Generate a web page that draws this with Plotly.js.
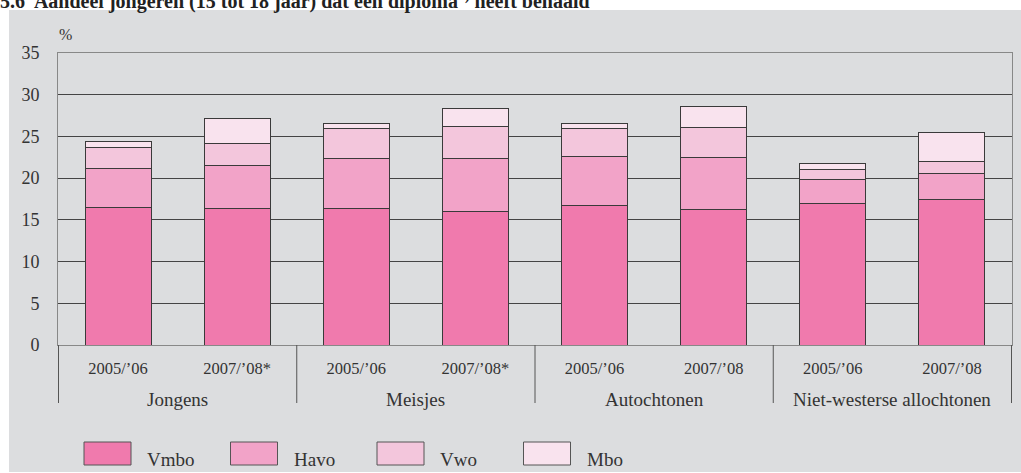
<!DOCTYPE html>
<html>
<head>
<meta charset="utf-8">
<script src="https://cdn.plot.ly/plotly-3.0.1.min.js"></script>
<style>html,body{margin:0;padding:0;background:#fff;}#chart{width:1021px;height:473px;}</style>
</head>
<body>
<div id="chart"></div>
<script>
// ---- data ----
const groupNames = ['Jongens','Meisjes','Autochtonen','Niet-westerse allochtonen'];
const groups = ['Jongens','Jongens','Meisjes','Meisjes','Autochtonen','Autochtonen','Niet-westerse allochtonen','Niet-westerse allochtonen'];
const periods = ['2005/\u201906','2007/\u201908*','2005/\u201906','2007/\u201908*','2005/\u201906','2007/\u201908','2005/\u201906','2007/\u201908'];
const vmbo = [16.5, 16.4, 16.4, 16.0, 16.7, 16.2, 17.0, 17.4];
const havo = [4.6, 5.1, 5.9, 6.3, 5.9, 6.3, 2.8, 3.2];
const vwo  = [2.6, 2.7, 3.6, 3.9, 3.4, 3.6, 1.2, 1.4];
const mbo  = [0.7, 3.0, 0.6, 2.2, 0.5, 2.5, 0.8, 3.5];
const seriesNames = ['Vmbo','Havo','Vwo','Mbo'];
const seriesValues = [vmbo, havo, vwo, mbo];
const colors = ['#f07aad','#f2a3c8','#f3c6dc','#f9e3ee'];
const titleText = '<b>5.6  Aandeel jongeren (15 tot 18 jaar) dat een diploma<sup>1)</sup> heeft behaald</b>';

// unique category keys (group + period), shown with the period as tick text
const keys = groups.map((g, i) => g + ' | ' + periods[i]);

// ---- geometry helpers (pixels -> paper) ----
const W = 1021, H = 473;
const M = {l: 58, r: 9, t: 53, b: 128};
const pw = W - M.l - M.r, ph = H - M.t - M.b;
const px = x => (x - M.l) / pw;
const py = y => (H - M.b - y) / ph;

const FONT = 'Liberation Serif, DejaVu Serif, serif';
const TXT = '#333333';

const traces = seriesNames.map((n, i) => ({
  type: 'bar',
  name: n,
  x: keys,
  y: seriesValues[i],
  marker: {color: colors[i], line: {color: '#3a3a3a', width: 1}},
  showlegend: false,
  hoverinfo: 'y+name'
}));

const shapes = [{
  type: 'rect', xref: 'paper', yref: 'paper', layer: 'below',
  x0: px(9), x1: px(1021), y0: py(472), y1: py(10),
  fillcolor: '#dcdddf', line: {width: 0}
}];
const annotations = [
  {xref: 'paper', yref: 'paper', x: px(57), y: py(34), xanchor: 'left', yanchor: 'middle',
   text: '%', showarrow: false, font: {family: FONT, size: 16, color: TXT}},
  {xref: 'paper', yref: 'paper', x: px(-2), y: py(0.5), xanchor: 'left', yanchor: 'middle',
   text: titleText, showarrow: false, font: {family: FONT, size: 20, color: '#222'}}
];

// group labels and dividers on the category axis
let start = 0;
groupNames.forEach((g, gi) => {
  const count = groups.filter(v => v === g).length;
  const mid = start + (count - 1) / 2;
  annotations.push({xref: 'x', yref: 'paper', x: mid, y: py(399), xanchor: 'center', yanchor: 'middle',
    text: g, showarrow: false, font: {family: FONT, size: 19, color: TXT}});
  shapes.push({type: 'line', xref: 'x', yref: 'paper', x0: start - 0.5, x1: start - 0.5,
    y0: 0, y1: py(403), line: {color: '#555', width: 1}});
  start += count;
});
shapes.push({type: 'line', xref: 'x', yref: 'paper', x0: start - 0.5, x1: start - 0.5,
  y0: 0, y1: py(403), line: {color: '#555', width: 1}});

// legend drawn as swatches + labels
seriesNames.forEach((n, i) => {
  const x0 = 84 + i * 146.5;
  shapes.push({type: 'rect', xref: 'paper', yref: 'paper',
    x0: px(x0), x1: px(x0 + 47), y0: py(465), y1: py(442),
    fillcolor: colors[i], line: {color: '#555', width: 1}});
  annotations.push({xref: 'paper', yref: 'paper', x: px(x0 + 61), y: py(459),
    xanchor: 'left', yanchor: 'middle', text: n, showarrow: false,
    font: {family: FONT, size: 19, color: TXT}});
});

const layout = {
  width: W, height: H,
  margin: M,
  paper_bgcolor: '#ffffff',
  plot_bgcolor: '#ffffff',
  barmode: 'stack',
  bargap: 0.445,
  font: {family: FONT, size: 15, color: TXT},
  xaxis: {
    type: 'category',
    tickmode: 'array', tickvals: keys, ticktext: periods,
    showline: true, linecolor: '#888', linewidth: 1, mirror: true,
    showgrid: false, ticks: '',
    tickfont: {family: FONT, size: 16.5, color: TXT},
    ticklabelstandoff: 8
  },
  yaxis: {
    range: [0, 35], tick0: 0, dtick: 5,
    showline: true, linecolor: '#888', linewidth: 1, mirror: true,
    showgrid: true, gridcolor: '#444', gridwidth: 1,
    zeroline: false, ticks: '',
    ticklabelstandoff: 14,
    tickfont: {family: FONT, size: 18, color: TXT}
  },
  shapes: shapes,
  annotations: annotations
};

Plotly.newPlot('chart', traces, layout, {displayModeBar: false, staticPlot: true});
</script>
</body>
</html>
